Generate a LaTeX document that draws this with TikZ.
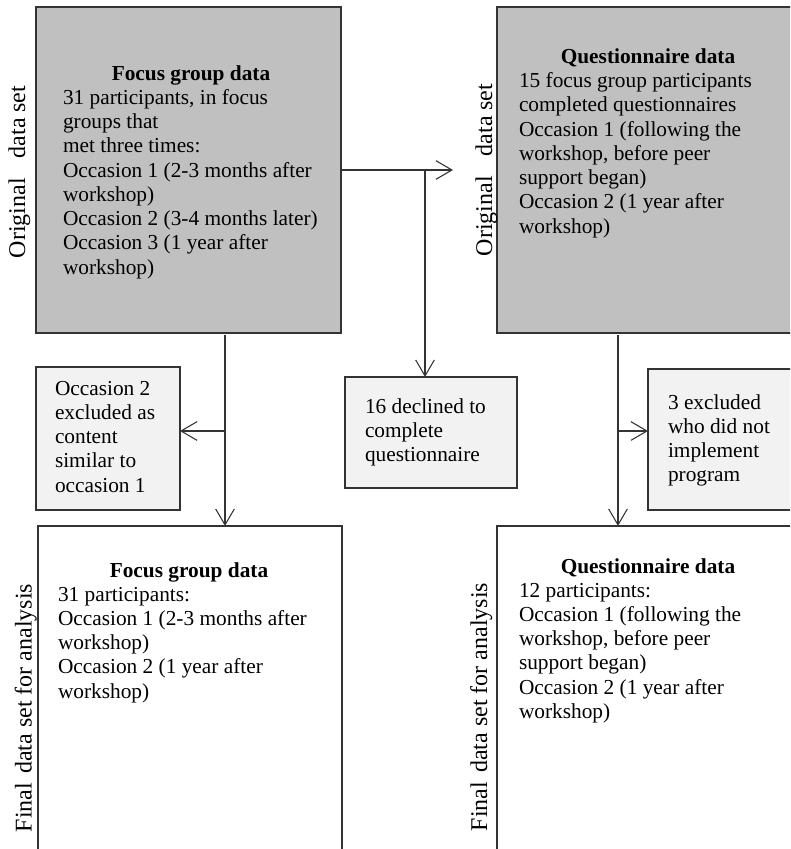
\documentclass[tikz,border=0pt]{standalone}
\usepackage{fontspec}
\setmainfont{Liberation Serif}
\usetikzlibrary{arrows.meta,fit}
\definecolor{boxgray}{HTML}{C0C0C0}
\definecolor{lightbox}{HTML}{F2F2F2}
\definecolor{linecol}{HTML}{333333}
\begin{document}
\begin{tikzpicture}[x=0.75pt,y=-0.75pt,
  box/.style={draw=linecol, line width=0.9pt, inner sep=0pt, outer sep=0pt},
  txt/.style={inner sep=0pt, outer sep=0pt, font=\fontsize{16}{18.2}\selectfont, anchor=base west},
  ttl/.style={inner sep=0pt, outer sep=0pt, font=\fontsize{16}{18.2}\selectfont\bfseries, anchor=base},
  side/.style={inner sep=0pt, font=\fontsize{18}{20}\selectfont, rotate=90, anchor=base},
  conn/.style={draw=linecol, line width=0.8pt, -{Straight Barb[length=12pt,width=14pt,line width=0.8pt]}}
]
\clip (0,0) rectangle (790,849);
\fill[white] (0,0) rectangle (790,849);

% boxes
\node[box, fill=boxgray, fit={(36,7) (341,333)}] (fg) {};
\node[box, fill=boxgray, fit={(497,7) (810,333)}] (qs) {};
\node[box, fill=lightbox, fit={(36,367) (180,510)}] (exc) {};
\node[box, fill=lightbox, fit={(345,377) (517,488)}] (dec) {};
\node[box, fill=lightbox, fit={(648,369) (810,510)}] (imp) {};
\node[box, fill=white, fit={(38,526) (342,870)}] (fgf) {};
\node[box, fill=white, fit={(497,526) (810,870)}] (qf) {};

% side labels
\node[side] (l1) at (25,172) {Original\hspace{15pt}data set};
\node[side] (l2) at (492,170) {Original\hspace{15pt}data set};
\node[side] (l3) at (31.5,708) {Final\hspace{6.75pt}data set for analysis};
\node[side] (l4) at (487,707) {Final\hspace{6.75pt}data set for analysis};

% texts
\node[ttl] (t1) at (191,80) {Focus group data};
\node[txt] (b1) at (63,104.3) {\begin{tabular}[t]{@{}l@{}}31 participants, in focus\\ groups that\\ met three times:\\ Occasion 1 (2-3 months after\\ workshop)\\ Occasion 2 (3-4 months later)\\ Occasion 3 (1 year after\\ workshop)\end{tabular}};

\node[ttl] (t2) at (648,63.3) {Questionnaire data};
\node[txt] (b2) at (519,87.6) {\begin{tabular}[t]{@{}l@{}}15 focus group participants\\ completed questionnaires\\ Occasion 1 (following the\\ workshop, before peer\\ support began)\\ Occasion 2 (1 year after\\ workshop)\end{tabular}};

\node[txt] (b3) at (55,395) {\begin{tabular}[t]{@{}l@{}}Occasion 2\\ excluded as\\ content\\ similar to\\ occasion 1\end{tabular}};
\node[txt] (b4) at (365,413) {\begin{tabular}[t]{@{}l@{}}16 declined to\\ complete\\ questionnaire\end{tabular}};
\node[txt] (b5) at (668,409) {\begin{tabular}[t]{@{}l@{}}3 excluded\\ who did not\\ implement\\ program\end{tabular}};

\node[ttl] (t6) at (189,577) {Focus group data};
\node[txt] (b6) at (58,601) {\begin{tabular}[t]{@{}l@{}}31 participants:\\ Occasion 1 (2-3 months after\\ workshop)\\ Occasion 2 (1 year after\\ workshop)\end{tabular}};

\node[ttl] (t7) at (648,573) {Questionnaire data};
\node[txt] (b7) at (519,597) {\begin{tabular}[t]{@{}l@{}}12 participants:\\ Occasion 1 (following the\\ workshop, before peer\\ support began)\\ Occasion 2 (1 year after\\ workshop)\end{tabular}};

% connectors
\coordinate (tipA) at (453,170);
\coordinate (brA) at (425,170);
\draw[conn] (fg.east) -- (tipA);
\draw[conn] (brA) -- (brA |- dec.north);

\coordinate (fgout) at (225,335);
\coordinate (brB) at (225,431);
\draw[conn] (fgout) -- (fgout |- fgf.north);
\draw[conn] (brB) -- (brB -| exc.east);

\coordinate (qout) at (618,335);
\coordinate (brC) at (618,431);
\draw[conn] (qout) -- (qout |- qf.north);
\draw[conn] (brC) -- (brC -| imp.west);
\end{tikzpicture}
\end{document}
